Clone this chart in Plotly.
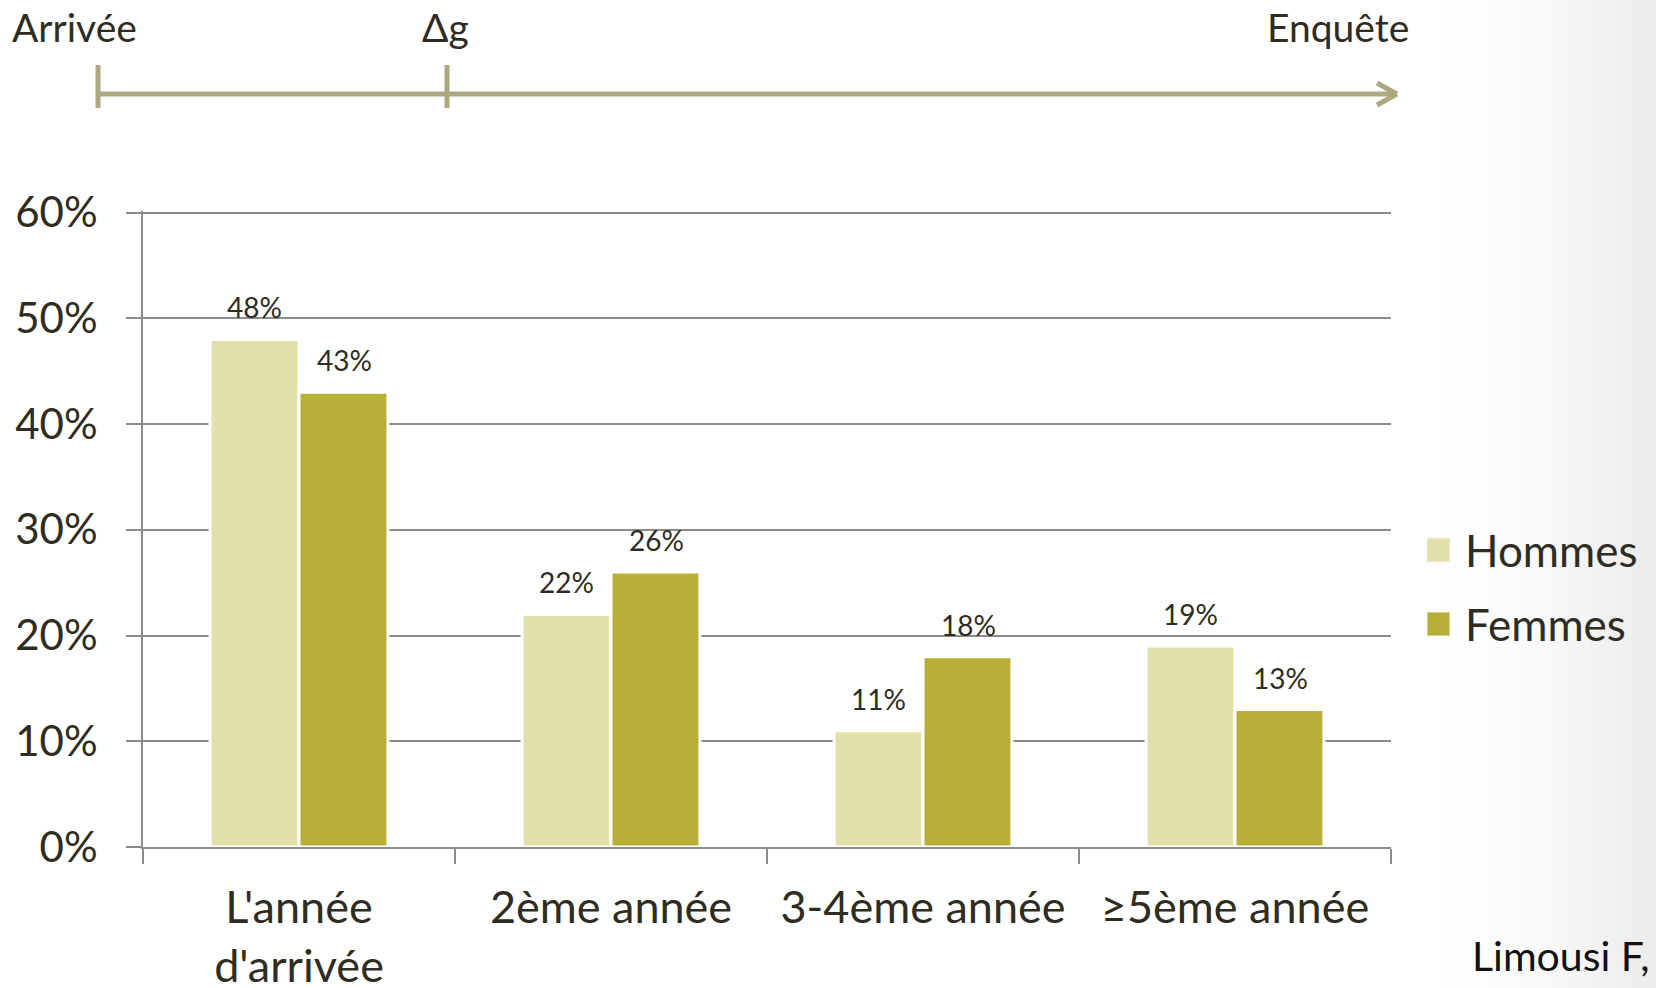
import plotly.graph_objects as go

# ---- data ----
categories = ["L'année<br>d'arrivée", "2ème année", "3-4ème année", "≥5ème année"]
hommes = [0.48, 0.22, 0.11, 0.19]
femmes = [0.43, 0.26, 0.18, 0.13]
series_names = ["Hommes", "Femmes"]
y_ticks = [0, 0.1, 0.2, 0.3, 0.4, 0.5, 0.6]
timeline_labels = ["Arrivée", "Δg", "Enquête"]
source_text = "Limousi F,"

# ---- style ----
W, H = 1656, 988
L, R, T, B = 143, 1391, 211, 847  # plot area in px
FONT = "Lato"
TXT = "#2F2C22"
GRID = "#8C8C8C"
C_H = "#E3DFA8"
C_F = "#B8AF38"
TL = "#ADA880"

def px(x):
    return (x - L) / (R - L)

def py(y):
    return (B - y) / (B - T)

fig = go.Figure()
for name, vals, col in [(series_names[0], hommes, C_H), (series_names[1], femmes, C_F)]:
    fig.add_trace(go.Bar(
        x=categories, y=vals, name=name, marker_color=col,
        marker_line=dict(color="white", width=3), showlegend=False,
    ))

annotations = []
# data labels
for vals, shift in [(hommes, -45), (femmes, 45)]:
    for c, v in zip(categories, vals):
        annotations.append(dict(
            x=c, y=v, xref="x", yref="y", text=f"{round(v*100)}%",
            showarrow=False, xshift=shift, yshift=13, yanchor="bottom",
            font=dict(family=FONT, size=28, color=TXT),
        ))

# legend (manual)
for name, col, cy in [(series_names[0], C_H, 550), (series_names[1], C_F, 624)]:
    fig.add_shape(type="rect", xref="paper", yref="paper",
                  x0=px(1427), x1=px(1450), y0=py(cy + 12), y1=py(cy - 12),
                  fillcolor=col, line=dict(color="#F4F4EE", width=1))
    annotations.append(dict(x=px(1463), y=py(cy), xref="paper", yref="paper",
                            text=name, showarrow=False, xanchor="left", yanchor="middle",
                            font=dict(family=FONT, size=44, color=TXT)))

# timeline
ly = py(94)
fig.add_shape(type="line", xref="paper", yref="paper", x0=px(98), x1=px(1397), y0=ly, y1=ly,
              line=dict(color=TL, width=5))
for tx in [98, 447]:
    fig.add_shape(type="line", xref="paper", yref="paper", x0=px(tx), x1=px(tx),
                  y0=py(65), y1=py(108), line=dict(color=TL, width=5))
for ay in [83, 105]:
    fig.add_shape(type="line", xref="paper", yref="paper", x0=px(1377), x1=px(1397),
                  y0=py(ay), y1=ly, line=dict(color=TL, width=5))
for text, cx in zip(timeline_labels, [74, 445, 1338]):
    annotations.append(dict(x=px(cx), y=py(27), xref="paper", yref="paper", text=text,
                            showarrow=False, xanchor="center", yanchor="middle",
                            font=dict(family=FONT, size=39, color=TXT)))

annotations.append(dict(x=px(1470), y=py(955), xref="paper", yref="paper", text=source_text,
                        showarrow=False, xanchor="left", yanchor="middle",
                        font=dict(family=FONT, size=41, color="#111111")))

# background gradient on the right
n = 30
x_start = 1440
for i in range(n):
    x0 = x_start + (W - x_start) * i / n
    x1 = x_start + (W - x_start) * (i + 1) / n
    g = int(255 - 19 * ((i + 1) / n) ** 1.6)
    fig.add_shape(type="rect", xref="paper", yref="paper", layer="below",
                  x0=px(x0), x1=px(x1 + 1), y0=py(H + 2), y1=py(-2),
                  fillcolor=f"rgb({g},{g},{g})", line=dict(width=0))

fig.update_layout(
    width=W, height=H,
    margin=dict(l=L, r=W - R, t=T, b=H - B, autoexpand=False),
    paper_bgcolor="white", plot_bgcolor="rgba(0,0,0,0)",
    barmode="group", bargap=0.43, bargroupgap=0,
    annotations=annotations, showlegend=False,
    font=dict(family=FONT, color=TXT),
)
fig.update_yaxes(range=[0, 0.6015], tickvals=y_ticks, tickformat=".0%", automargin=False,
                 showgrid=True, gridcolor=GRID, gridwidth=2,
                 showline=True, linecolor=GRID, linewidth=2,
                 ticks="outside", ticklen=15, tickwidth=2, tickcolor=GRID,
                 zeroline=False, ticklabelstandoff=20,
                 tickfont=dict(family=FONT, size=42, color=TXT))
fig.update_xaxes(type="category", showgrid=False, automargin=False,
                 showline=True, linecolor=GRID, linewidth=2,
                 ticks="outside", tickson="boundaries", ticklen=15, tickwidth=2, tickcolor=GRID,
                 ticklabelstandoff=20,
                 tickfont=dict(family=FONT, size=45, color=TXT))

fig.write_html("out.html", config={"displayModeBar": False},
               post_script="document.body.style.margin='0';document.body.style.overflow='hidden';")
